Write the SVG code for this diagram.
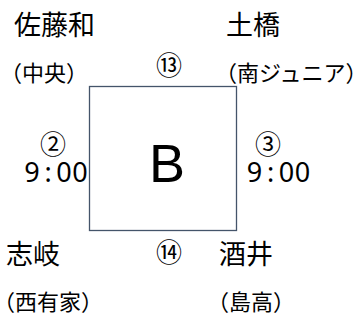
<svg xmlns="http://www.w3.org/2000/svg" width="358" height="320" viewBox="0 0 358 320">
<style>
.jp{font-family:"Noto Sans CJK JP","Noto Sans CJK SC",sans-serif;fill:#000}
.nm{font-size:27px}
.sb{font-size:22px;font-feature-settings:"halt"}
.cn{font-family:"Noto Sans CJK JP",sans-serif;font-size:26px;fill:#000;text-anchor:middle}
.tm{font-family:"Noto Sans","DejaVu Sans",sans-serif;font-size:27px;fill:#000;text-anchor:middle}
.box{fill:#fff;stroke:#44546A;stroke-width:1.3}
</style>
<rect width="358" height="320" fill="#fff"/>
<g id="node-B">
<rect class="box" x="89.5" y="86.5" width="147" height="144"/>
<text x="149" y="182" font-family="Liberation Sans, Arial, sans-serif" font-size="54" fill="#000">B</text>
</g>
<g id="connectors">
<text class="cn" x="169" y="75">⑬</text>
<text class="cn" x="169" y="262">⑭</text>
</g>
<g id="node-tl">
<text class="jp nm" x="14" y="35">佐藤和</text>
<text class="jp sb" x="11" y="81">（中央）</text>
</g>
<g id="node-tr">
<text class="jp nm" x="226" y="35">土橋</text>
<text class="jp sb" x="226" y="81">（南ジュニア）</text>
</g>
<g id="node-bl">
<text class="jp nm" x="6" y="264">志岐</text>
<text class="jp sb" x="4" y="310">（西有家）</text>
</g>
<g id="node-br">
<text class="jp nm" x="219" y="264">酒井</text>
<text class="jp sb" x="218" y="310">（島高）</text>
</g>
<g id="time-left">
<text class="tm"><tspan class="cn" x="53" y="154">②</tspan><tspan x="32 48 64 80" y="182">9:00</tspan></text>
</g>
<g id="time-right">
<text class="tm"><tspan class="cn" x="268" y="154">③</tspan><tspan x="254.5 270.5 286.5 302.5" y="182">9:00</tspan></text>
</g>
</svg>
